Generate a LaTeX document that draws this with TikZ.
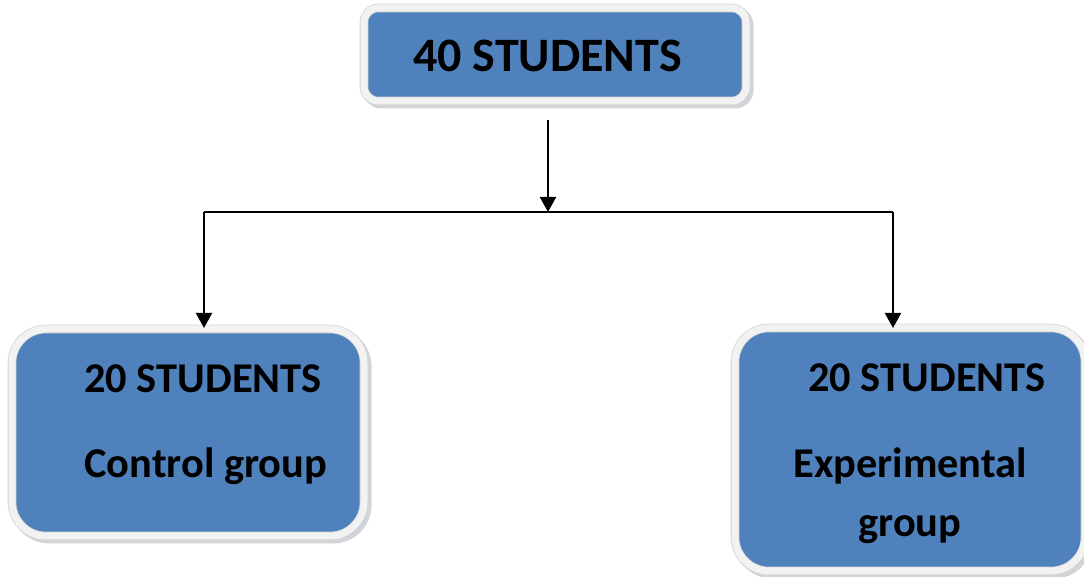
\documentclass[tikz,border=0pt]{standalone}
\usepackage{fontspec}
\setmainfont{Carlito}
\usetikzlibrary{arrows.meta,shadows}

\definecolor{boxblue}{HTML}{4F81BD}
\definecolor{boxrim}{HTML}{F2F2F2}
\definecolor{rimline}{HTML}{D4D4D4}
\definecolor{shadowgray}{HTML}{A3ABB6}

\tikzset{
  groupbox/.style={rectangle,fill=boxblue,draw=rimline,double=boxrim,
    double distance=3.5pt,line width=0.4pt,inner sep=0pt,
    drop shadow={shadow xshift=1.6pt,shadow yshift=-1.6pt,fill=shadowgray,
      draw=shadowgray,line width=4.3pt}},
  link/.style={line width=1pt},
  linkarrow/.style={link,-{Triangle[length=7.5pt,width=8pt]}},
  bigtext/.style={anchor=base west,inner sep=0pt,font=\bfseries\fontsize{24}{28}\selectfont},
  smalltext/.style={anchor=base west,inner sep=0pt,font=\bfseries\fontsize{21.2}{25}\selectfont}
}

\begin{document}
\begin{tikzpicture}[x=0.5pt,y=-0.5pt]
        \useasboundingbox (0,0) rectangle (1084,577);

        % boxes
        \begin{scope}[every node/.style={groupbox}]
          \node[rounded corners=7pt,minimum width=191pt,minimum height=46.5pt]
            (all) at (555,54.5) {};
          \node[rounded corners=17pt,minimum width=176pt,minimum height=103.5pt]
            (control) at (188,432.5) {};
          \node[rounded corners=17pt,minimum width=175pt,minimum height=121.5pt]
            (experimental) at (910,449.5) {};
        \end{scope}

        % labels
        \node[bigtext] (allname) at (413,72) {40 STUDENTS};
        \node[smalltext] (controlnum) at (84,393) {20 STUDENTS};
        \node[smalltext] (controlname) at (84,478) {Control group};
        \node[smalltext] (expnum) at (808,392) {20 STUDENTS};
        \node[smalltext] (expname) at (793,478) {Experimental};
        \node[smalltext] (expname2) at (858,537) {group};

        % connectors
        \coordinate (start) at ([xshift=-3.5pt,yshift=-9.5pt]all.south);
        \coordinate (split) at (start |- 0,212);
        \coordinate (leftturn) at (204,212);
        \coordinate (rightturn) at (893,212);

        \draw[linkarrow] (start) -- (split);
        \draw[link] (leftturn) -- (rightturn);
        \draw[linkarrow] (leftturn) -- (leftturn |- 0,328);
        \draw[linkarrow] (rightturn) -- (rightturn |- 0,328);

      \end{tikzpicture}
\end{document}
